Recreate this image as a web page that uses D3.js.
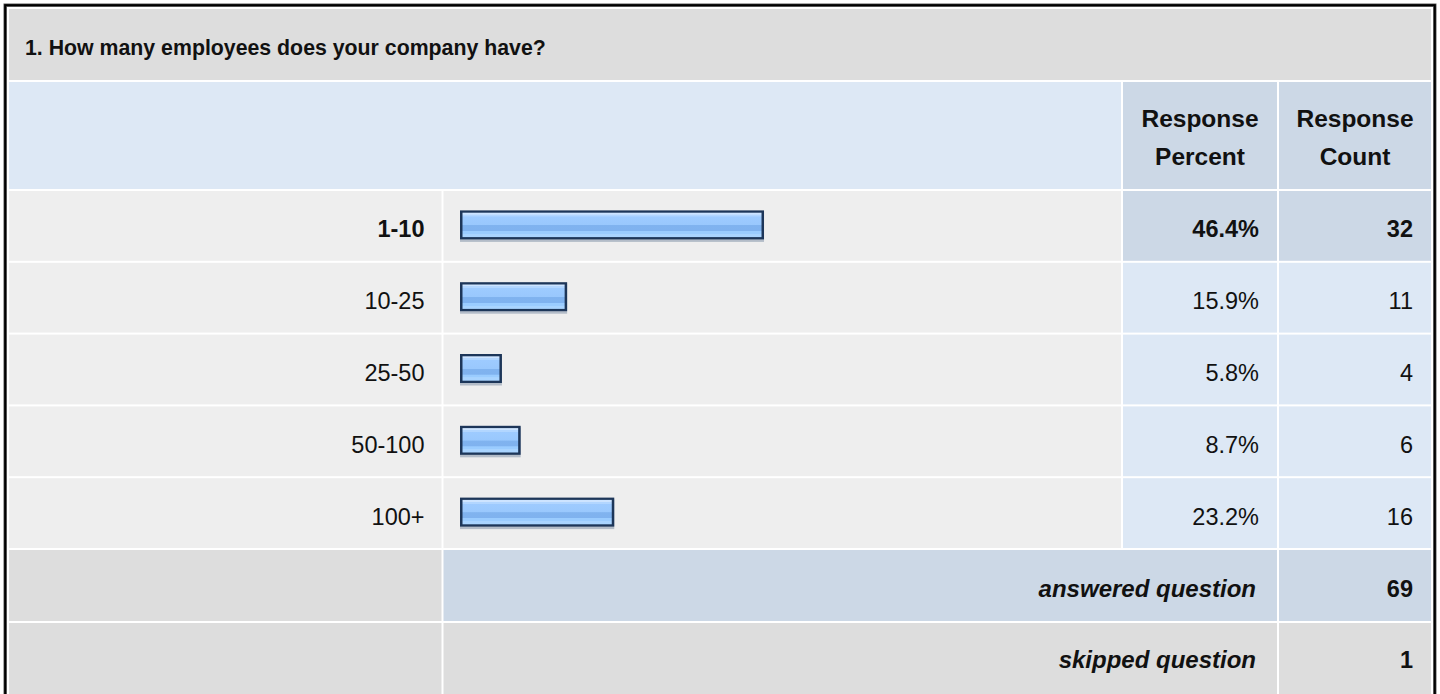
<!DOCTYPE html>
<html>
<head>
<meta charset="utf-8">
<script src="https://cdn.jsdelivr.net/npm/d3@7"></script>
<style>
  html, body { margin: 0; padding: 0; background: #fff; }
  svg { display: block; font-family: Arial, "Liberation Sans", sans-serif; }
</style>
</head>
<body>
<svg id="chart" width="1440" height="694"></svg>
<script>
// survey data
const question = '1. How many employees does your company have?';
const categories = ['1-10', '10-25', '25-50', '50-100', '100+'];
const percents = [46.4, 15.9, 5.8, 8.7, 23.2];
const counts = [32, 11, 4, 6, 16];
const headerLabels = [['Response', 'Percent'], ['Response', 'Count']];
const answered = 69;
const skipped = 1;

const svg = d3.select('#chart');

// column edges (table uses 2px cell spacing)
const cols = [
  { x0: 9, x1: 441.5 },
  { x0: 443.5, x1: 1121 },
  { x0: 1123, x1: 1277 },
  { x0: 1279, x1: 1431 }
];

const rows = d3.scaleBand()
  .domain(categories)
  .range([190, 549])
  .paddingInner(2 / 71.8)
  .paddingOuter(1 / 71.8);

const barLeft = 460;
const barW = d3.scaleLinear().domain([0, 100]).range([4.5, 650]);
const maxIdx = d3.maxIndex(percents);

const defs = svg.append('defs');
const grad = defs.append('linearGradient')
  .attr('id', 'barGrad')
  .attr('x1', 0).attr('y1', 0).attr('x2', 0).attr('y2', 1);
[
  [0, '#cde4ff'], [0.07, '#cde4ff'], [0.08, '#b2d6ff'], [0.15, '#b2d6ff'],
  [0.16, '#9ecbff'], [0.5, '#99c8fd'], [0.52, '#80b3ef'], [0.74, '#7fb2ef'],
  [0.76, '#9accff'], [0.86, '#9accff'], [0.87, '#a9d4ff'], [1, '#a9d4ff']
].forEach(s => grad.append('stop').attr('offset', s[0]).attr('stop-color', s[1]));

function cell(x0, x1, y0, y1, fill) {
  svg.append('rect')
    .attr('x', x0).attr('y', y0)
    .attr('width', x1 - x0).attr('height', y1 - y0)
    .attr('fill', fill);
}

function label(x, y, str, opts) {
  opts = opts || {};
  return svg.append('text')
    .attr('x', x).attr('y', y)
    .attr('text-anchor', opts.anchor || 'end')
    .attr('font-size', opts.size || 23.5)
    .attr('font-weight', opts.bold ? 'bold' : 'normal')
    .attr('font-style', opts.italic ? 'italic' : 'normal')
    .attr('fill', '#111')
    .text(str);
}

// title row
cell(cols[0].x0, cols[3].x1, 9, 80, '#dddddd');
label(25, 55, question, { anchor: 'start', size: 21.3, bold: true });

// header row
cell(cols[0].x0, cols[1].x1, 82, 189, '#dde8f5');
headerLabels.forEach((lines, i) => {
  const c = cols[i + 2];
  cell(c.x0, c.x1, 82, 189, '#ccd8e6');
  lines.forEach((ln, j) => {
    label((c.x0 + c.x1) / 2, 127 + j * 38, ln, { anchor: 'middle', size: 24.5, bold: true });
  });
});

// data rows
categories.forEach((cat, i) => {
  const y0 = rows(cat);
  const y1 = y0 + rows.bandwidth();
  const cy = y0 + rows.bandwidth() / 2;
  const hi = i === maxIdx;
  cell(cols[0].x0, cols[0].x1, y0, y1, '#eeeeee');
  cell(cols[1].x0, cols[1].x1, y0, y1, '#eeeeee');
  cell(cols[2].x0, cols[2].x1, y0, y1, hi ? '#ccd8e6' : '#dde8f5');
  cell(cols[3].x0, cols[3].x1, y0, y1, hi ? '#ccd8e6' : '#dde8f5');

  label(cols[0].x1 - 17, cy + 11.5, cat, { bold: hi });
  label(cols[2].x1 - 18, cy + 11.5, percents[i].toFixed(1) + '%', { bold: hi });
  label(cols[3].x1 - 18, cy + 11.5, counts[i], { bold: hi });

  const w = barW(percents[i]);
  // faint drop shadow under the bar
  svg.append('rect')
    .attr('x', barLeft).attr('y', cy - 14)
    .attr('width', w).attr('height', 30)
    .attr('fill', '#8494aa').attr('opacity', 0.55);
  svg.append('rect')
    .attr('x', barLeft).attr('y', cy - 15.5)
    .attr('width', w).attr('height', 29)
    .attr('fill', '#1d3659');
  svg.append('rect')
    .attr('x', barLeft + 2.5).attr('y', cy - 13.2)
    .attr('width', Math.max(0, w - 5)).attr('height', 24.4)
    .attr('fill', 'url(#barGrad)');
});

// footer rows
const fy = [[550, 621], [623, 700]];
cell(cols[0].x0, cols[0].x1, fy[0][0], fy[0][1], '#dddddd');
cell(cols[1].x0, cols[2].x1, fy[0][0], fy[0][1], '#ccd8e6');
cell(cols[3].x0, cols[3].x1, fy[0][0], fy[0][1], '#ccd8e6');
label(cols[2].x1 - 21, 597, 'answered question', { bold: true, italic: true, size: 24 });
label(cols[3].x1 - 18, 597, answered, { bold: true });

cell(cols[0].x0, cols[0].x1, fy[1][0], fy[1][1], '#dddddd');
cell(cols[1].x0, cols[2].x1, fy[1][0], fy[1][1], '#dddddd');
cell(cols[3].x0, cols[3].x1, fy[1][0], fy[1][1], '#dddddd');
label(cols[2].x1 - 21, 668, 'skipped question', { bold: true, italic: true, size: 24 });
label(cols[3].x1 - 18, 668, skipped, { bold: true });

// outer frame
svg.append('rect')
  .attr('x', 5.2).attr('y', 5.2)
  .attr('width', 1429.6).attr('height', 720)
  .attr('fill', 'none')
  .attr('stroke', '#5a5a5a').attr('stroke-width', 3.4);
svg.append('rect')
  .attr('x', 5.2).attr('y', 5.2)
  .attr('width', 1429.6).attr('height', 720)
  .attr('fill', 'none')
  .attr('stroke', '#000').attr('stroke-width', 2);
</script>
</body>
</html>
